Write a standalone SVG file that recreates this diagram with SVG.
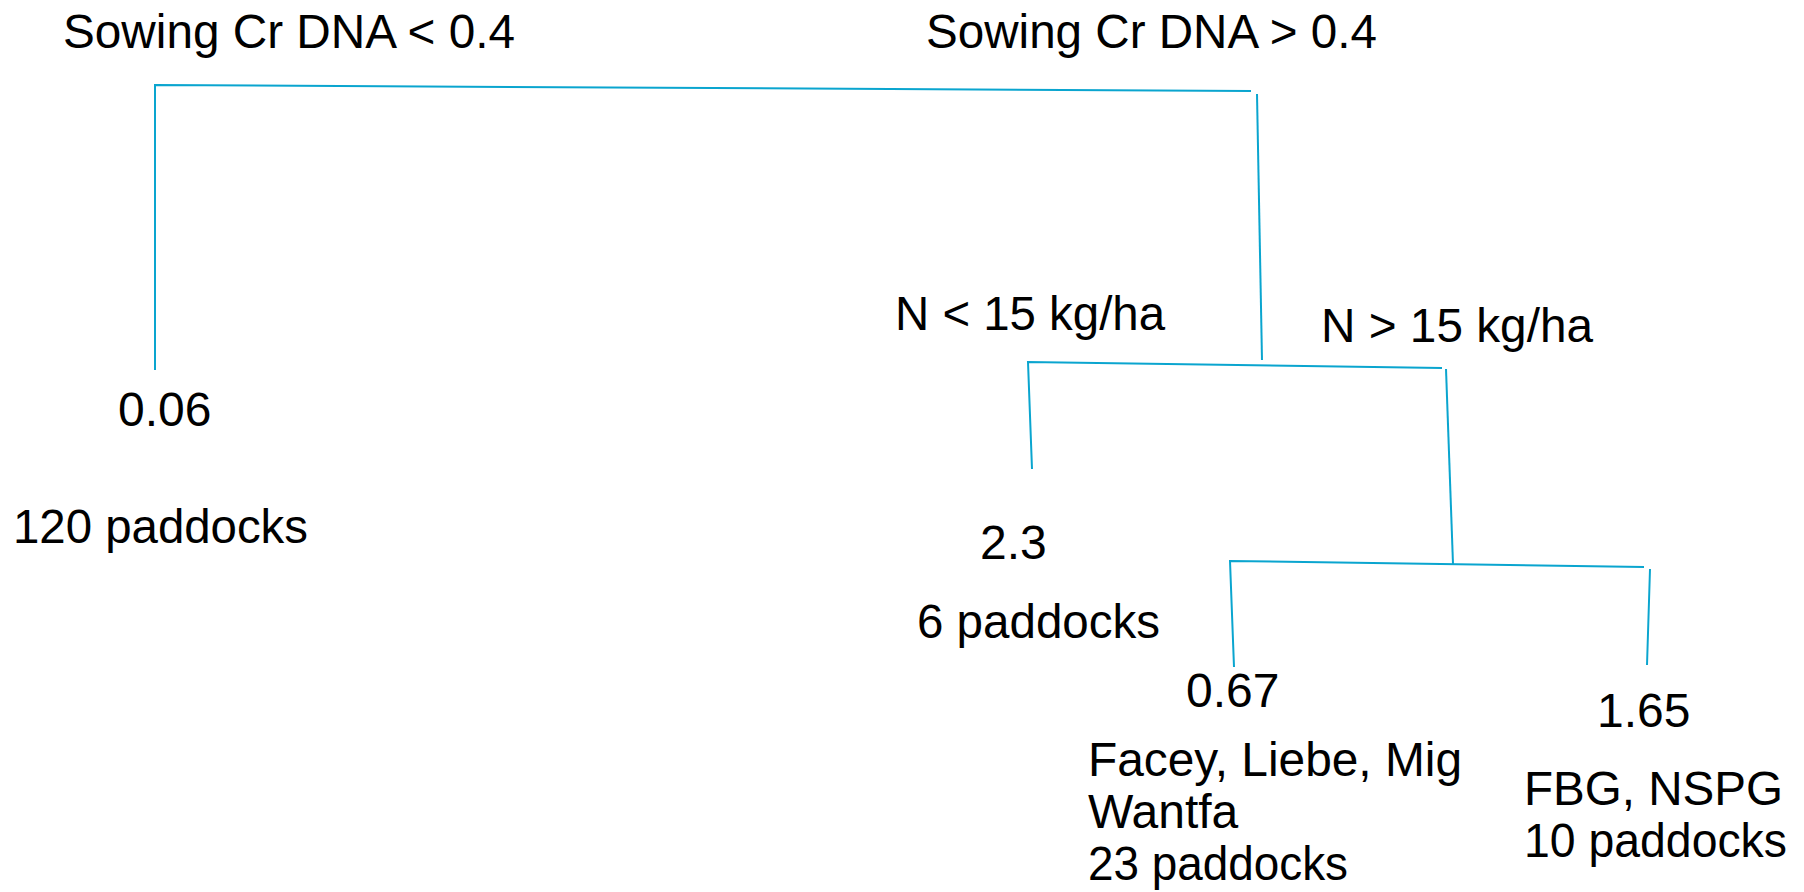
<svg xmlns="http://www.w3.org/2000/svg" width="1804" height="892" viewBox="0 0 1804 892">
<style>
text{font-family:"Liberation Sans",Arial,sans-serif;font-size:48px;fill:#000}
.c{fill:none;stroke:#0aa5cf;stroke-width:2}
</style>
<rect width="1804" height="892" fill="#fff"/>
<g id="connectors">
<polyline class="c" points="155,370 155,85 1251,91"/>
<line class="c" x1="1257" y1="94" x2="1262" y2="360"/>
<polyline class="c" points="1032,469 1028,362 1442,368"/>
<line class="c" x1="1446" y1="369" x2="1453" y2="564"/>
<polyline class="c" points="1234,667 1230,561 1644,567"/>
<line class="c" x1="1650" y1="569" x2="1647" y2="665"/>
</g>
<g id="split1-left"><text x="63" y="48" textLength="452" lengthAdjust="spacingAndGlyphs">Sowing Cr DNA &lt; 0.4</text></g>
<g id="split1-right"><text x="926" y="48" textLength="451" lengthAdjust="spacingAndGlyphs">Sowing Cr DNA &gt; 0.4</text></g>
<g id="split2-left"><text x="895" y="330" textLength="270" lengthAdjust="spacingAndGlyphs">N &lt; 15 kg/ha</text></g>
<g id="split2-right"><text x="1321" y="342" textLength="272" lengthAdjust="spacingAndGlyphs">N &gt; 15 kg/ha</text></g>
<g id="leaf-1"><text x="118" y="426">0.06</text><text x="13" y="543" textLength="295" lengthAdjust="spacingAndGlyphs">120 paddocks</text></g>
<g id="leaf-2"><text x="980" y="559">2.3</text><text x="917" y="638" textLength="243" lengthAdjust="spacingAndGlyphs">6 paddocks</text></g>
<g id="leaf-3"><text x="1186" y="707">0.67</text><text x="1088" y="776" textLength="374" lengthAdjust="spacingAndGlyphs">Facey, Liebe, Mig</text><text x="1088" y="828">Wantfa</text><text x="1088" y="880" textLength="260" lengthAdjust="spacingAndGlyphs">23 paddocks</text></g>
<g id="leaf-4"><text x="1597" y="727">1.65</text><text x="1524" y="805" textLength="259" lengthAdjust="spacingAndGlyphs">FBG, NSPG</text><text x="1524" y="857" textLength="263" lengthAdjust="spacingAndGlyphs">10 paddocks</text></g>
</svg>
